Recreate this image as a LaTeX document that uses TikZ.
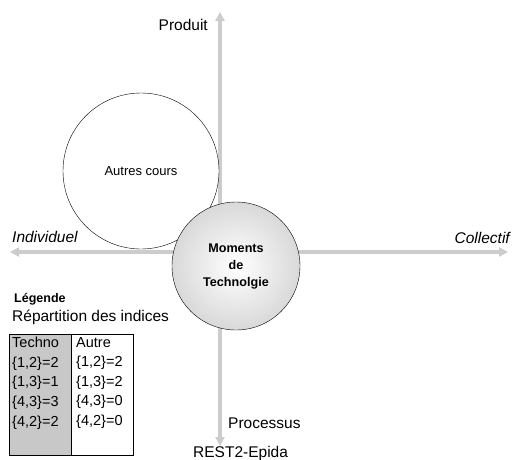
\documentclass[tikz,border=0pt]{standalone}
\usepackage{fontspec}
\setmainfont{Liberation Sans}
\usetikzlibrary{arrows.meta}
\definecolor{axisgray}{HTML}{CCCCCC}
\definecolor{tabgray}{HTML}{C8C8C8}
\begin{document}
\begin{tikzpicture}[x=1pt,y=-1pt,
  axis/.style={draw=axisgray,line width=4pt,-{Triangle[length=9pt,width=9pt]}},
  lbl/.style={inner sep=0pt,font=\fontsize{15.5}{17}\selectfont},
  ilbl/.style={lbl,font=\fontsize{15.5}{17}\selectfont\itshape},
  celltxt/.style={inner sep=0pt,anchor=north west,align=left,font=\fontsize{14.5}{19.6}\selectfont}]
\useasboundingbox (0,0) rectangle (512,459);
\coordinate (c) at (220,252);
\coordinate (top) at (220,12);
\coordinate (bot) at (220,446);
\coordinate (lft) at (10,252);
\coordinate (rgt) at (508,252);
\draw[axis] (c) -- (top);
\draw[axis] (c) -- (bot);
\draw[axis] (c) -- (lft);
\draw[axis] (c) -- (rgt);
\node[circle,draw,fill=white,minimum size=156pt,inner sep=0pt,font=\fontsize{13}{15}\selectfont] (autres) at (141,171) {Autres cours};
\node[circle,draw,inner sep=0pt,minimum size=128pt,inner color=white,outer color=black!15,align=center,font=\fontsize{12.6}{17}\selectfont\bfseries] (moments) at (236,266) {Moments\\de\\Technolgie};
\node[lbl,anchor=east] (produit) at (208,25) {Produit};
\node[ilbl,anchor=west] (indiv) at (12,237) {Individuel};
\node[ilbl,anchor=east] (collectif) at (510,238) {Collectif};
\node[lbl,anchor=west] (processus) at (228,423) {Processus};
\node[lbl,anchor=west] (rest) at (193,453) {REST2-Epida};
\node[inner sep=0pt,anchor=west,font=\fontsize{12.5}{14}\selectfont\bfseries] (legende) at (14,299) {Légende};
\node[lbl,anchor=west] (repart) at (12,317) {Répartition des indices};
\node[draw,fill=tabgray,minimum width=62pt,minimum height=121pt,anchor=north west,inner sep=0pt] (colA) at (9,334) {};
\node[draw,fill=white,minimum width=62pt,minimum height=121pt,anchor=north west,inner sep=0pt] (colB) at (71,334) {};
\draw[line width=1.5pt] (colA.north east) -- (colA.south east);
\node[celltxt] (txtA) at (12,337) {Techno\\\{1,2\}=2\\\{1,3\}=1\\\{4,3\}=3\\\{4,2\}=2};
\node[celltxt] (txtB) at (76,337) {Autre\\\{1,2\}=2\\\{1,3\}=2\\\{4,3\}=0\\\{4,2\}=0};
\end{tikzpicture}
\end{document}
